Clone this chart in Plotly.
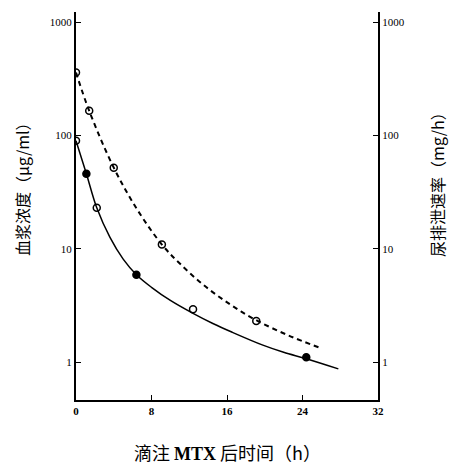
import plotly.graph_objects as go

# Blood concentration (µg/ml) measured points
blood_t = [0, 1.1, 2.2, 6.4, 12.4, 24.4]
blood_c = [90, 46, 23, 5.9, 2.92, 1.1]
blood_sym = ["circle-open", "circle", "circle-open", "circle", "circle-open", "circle"]

# Urine excretion rate (mg/h) measured points
urine_t = [0, 1.4, 4.0, 9.1, 19.1]
urine_r = [360, 165, 52, 10.9, 2.3]

# Fitted curve nodes
blood_curve_t = [0, 1.1, 2.2, 3.6, 5.0, 6.4, 8.0, 10.0, 12.4, 14.5, 16.5, 19.8, 22.0, 24.4, 27.8]
blood_curve_c = [90, 46, 23, 12.6, 8.1, 5.9, 4.57, 3.5, 2.69, 2.19, 1.84, 1.41, 1.22, 1.07, 0.87]
urine_curve_t = [0, 1.4, 4.0, 6.5, 9.1, 11.0, 13.5, 16.3, 19.1, 22.5, 26.0]
urine_curve_r = [360, 165, 52, 22.1, 10.9, 7.4, 4.8, 3.24, 2.34, 1.72, 1.32]

x_ticks = [0, 8, 16, 24, 32]
y_ticks = [1, 10, 100, 1000]
y_labels = ["1", "10", "100", "1000"]

fig = go.Figure()
fig.add_trace(go.Scatter(x=blood_curve_t, y=blood_curve_c, mode="lines",
                         line=dict(color="black", width=1.5, shape="spline", smoothing=1),
                         hoverinfo="skip", showlegend=False))
fig.add_trace(go.Scatter(x=urine_curve_t, y=urine_curve_r, mode="lines", yaxis="y2",
                         line=dict(color="black", width=2, dash="5px,4px", shape="spline", smoothing=1),
                         hoverinfo="skip", showlegend=False))
fig.add_trace(go.Scatter(x=blood_t, y=blood_c, mode="markers",
                         marker=dict(symbol=blood_sym, size=7, color="black",
                                     line=dict(color="black", width=1.5)),
                         showlegend=False))
fig.add_trace(go.Scatter(x=urine_t, y=urine_r, mode="markers", yaxis="y2",
                         marker=dict(symbol="circle-open", size=7, color="black",
                                     line=dict(color="black", width=1.5)),
                         showlegend=False))

tickfont = dict(family="Liberation Serif", size=11, color="black")
yr = [-0.335, 3.09]
fig.update_layout(
    width=450, height=466,
    margin=dict(l=76, r=72, t=12, b=66),
    paper_bgcolor="white", plot_bgcolor="white",
    xaxis=dict(range=[0, 32], tickvals=x_ticks, ticktext=[str(v) for v in x_ticks],
               ticks="inside", ticklen=5, tickwidth=1, tickcolor="black",
               showline=True, linewidth=2, linecolor="black", showgrid=False,
               zeroline=False, tickfont=dict(family="Liberation Serif", size=11, color="black", weight="bold")),
    yaxis=dict(type="log", range=yr, tickvals=y_ticks, ticktext=y_labels,
               ticks="inside", ticklen=5, tickwidth=1, tickcolor="black",
               showline=True, linewidth=2, linecolor="black", showgrid=False,
               zeroline=False, tickfont=tickfont),
    yaxis2=dict(type="log", range=yr, overlaying="y", side="right",
                tickvals=y_ticks, ticktext=y_labels,
                ticks="inside", ticklen=5, tickwidth=1, tickcolor="black",
                showline=True, linewidth=2, linecolor="black", showgrid=False,
                zeroline=False, tickfont=tickfont),
    annotations=[
        dict(text="血浆浓度（μg/ml）", xref="paper", yref="paper", x=-0.179, y=0.554,
             textangle=-90, showarrow=False, xanchor="center", yanchor="middle",
             font=dict(family="Noto Sans CJK SC", size=16, color="black")),
        dict(text="尿排泄速率（mg/h）", xref="paper", yref="paper", x=1.195, y=0.567,
             textangle=-90, showarrow=False, xanchor="center", yanchor="middle",
             font=dict(family="Noto Sans CJK SC", size=16, color="black")),
        dict(text="滴注 <span style='font-family:Liberation Serif'><b>MTX</b></span> 后时间（h）",
             xref="paper", yref="paper", x=0.503, y=-0.134,
             showarrow=False, xanchor="center", yanchor="middle",
             font=dict(family="Noto Sans CJK SC", size=18, color="black")),
    ],
)
fig.write_html("out.html", config={"displayModeBar": False},
               post_script="document.body.style.margin='0';document.body.style.padding='0';")
